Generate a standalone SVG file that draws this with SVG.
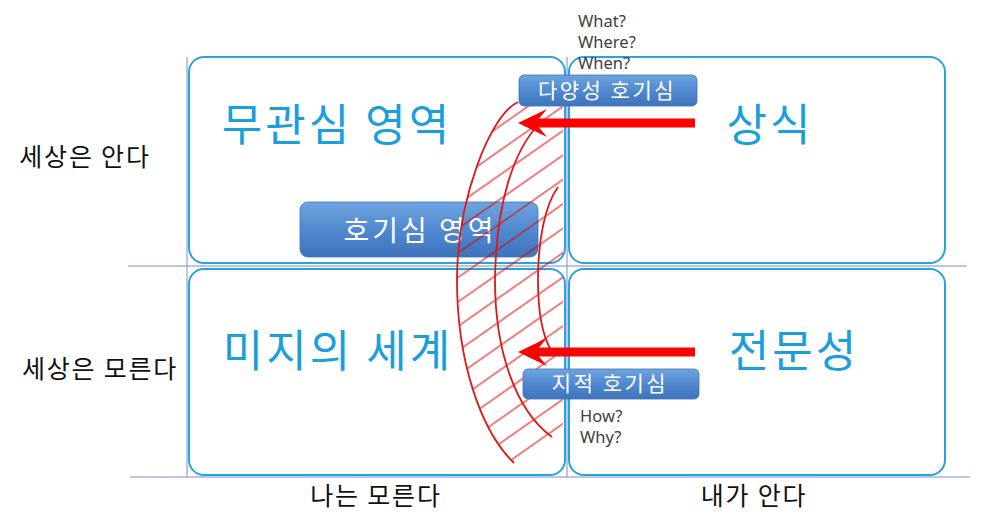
<svg xmlns="http://www.w3.org/2000/svg" width="996" height="516" viewBox="0 0 996 516">
<defs>
<style>
.quad{fill:#ffffff;stroke:#2aa2da;stroke-width:2}
.axis{stroke:#7d8ccb;stroke-width:1;fill:none}
.big{font-family:"Noto Sans CJK KR","Noto Sans",sans-serif;font-size:44px;letter-spacing:3px;fill:#1b9fdb;text-anchor:middle}
.side{font-family:"Noto Sans CJK KR","Noto Sans",sans-serif;font-size:25px;letter-spacing:1.8px;fill:#111111;text-anchor:middle}
.tag{fill:url(#tagGrad);stroke:#3d74b8;stroke-width:0.8}
.tagtxt{font-family:"Noto Sans CJK KR","Noto Sans",sans-serif;fill:#ffffff;text-anchor:middle}
.q{font-family:"Noto Sans","Liberation Sans",sans-serif;font-size:16.5px;fill:#404040}
.arc{fill:none;stroke:#dd1a1a;stroke-width:1.8}
.arrow{fill:#ff0000}
</style>
<linearGradient id="tagGrad" x1="0" y1="0" x2="0" y2="1">
<stop offset="0" stop-color="#6ea4de"/>
<stop offset="0.5" stop-color="#5189d0"/>
<stop offset="1" stop-color="#3d74bc"/>
</linearGradient>
<pattern id="hatch" patternUnits="userSpaceOnUse" width="200" height="20" patternTransform="rotate(-35)">
<line x1="0" y1="10" x2="200" y2="10" stroke="#e00000" stroke-width="1.1"/>
</pattern>
<clipPath id="crescent">
<path d="M 518 102 C 490 115, 457 200, 457 280 C 457 360, 480 430, 514 463 L 563 428 L 563 102 Z"/>
</clipPath>
</defs>

<g id="axes">
<line class="axis" x1="187" y1="57" x2="187" y2="477"/>
<line class="axis" x1="567" y1="57" x2="567" y2="477"/>
<line class="axis" x1="128" y1="266" x2="967" y2="266"/>
<line class="axis" x1="130" y1="477" x2="970" y2="477"/>
</g>

<g id="q-indifference">
<rect class="quad" x="189" y="57" width="376" height="206" rx="15"/>
<text class="big" x="337" y="141">무관심 영역</text>
</g>
<g id="q-common">
<rect class="quad" x="569" y="57" width="376" height="206" rx="15"/>
<text class="big" x="770" y="141">상식</text>
</g>
<g id="q-unknown">
<rect class="quad" x="189" y="269" width="376" height="206" rx="15"/>
<text class="big" x="338" y="367">미지의 세계</text>
</g>
<g id="q-expertise">
<rect class="quad" x="569" y="269" width="376" height="206" rx="15"/>
<text class="big" x="794" y="367">전문성</text>
</g>

<g id="label-world-knows"><text class="side" x="85" y="166">세상은 안다</text></g>
<g id="label-world-unknown"><text class="side" x="100" y="378">세상은 모른다</text></g>
<g id="label-i-unknown"><text class="side" x="376" y="505">나는 모른다</text></g>
<g id="label-i-know"><text class="side" x="754" y="505">내가 안다</text></g>

<g id="curiosity-area">
<rect class="tag" x="300" y="202" width="238" height="55" rx="8"/>
<text class="tagtxt" x="420" y="241" font-size="28" letter-spacing="3">호기심 영역</text>
</g>

<g id="curiosity-zone">
<rect x="440" y="90" width="130" height="390" fill="url(#hatch)" clip-path="url(#crescent)"/>
<path class="arc" d="M 518 102 C 490 115, 457 200, 457 280 C 457 360, 480 430, 514 463"/>
<path class="arc" d="M 538 125 C 515 150, 496 200, 495 280 C 495 350, 515 410, 552 437"/>
<path class="arc" d="M 558 187 C 545 205, 538 240, 538 280 C 538 310, 542 335, 551 350"/>
</g>

<g id="diverse-curiosity">
<rect class="tag" x="519" y="75" width="178" height="31" rx="5"/>
<text class="tagtxt" x="607" y="98" font-size="21" letter-spacing="2.5">다양성 호기심</text>
</g>
<g id="q-what">
<text class="q" x="578" y="27">What?</text>
<text class="q" x="578" y="48">Where?</text>
<text class="q" x="578" y="69">When?</text>
</g>

<g id="intellectual-curiosity">
<rect class="tag" x="523" y="369" width="176" height="30" rx="5"/>
<text class="tagtxt" x="610" y="391" font-size="21" letter-spacing="2.5">지적 호기심</text>
</g>
<g id="q-how">
<text class="q" x="580" y="422">How?</text>
<text class="q" x="580" y="443">Why?</text>
</g>

<g id="connectors">
<polygon class="arrow" points="518,123 547,109 539,118.5 695,118.5 695,127.5 539,127.5 547,137"/>
<polygon class="arrow" points="518,352 547,338 539,347.5 695,347.5 695,356.5 539,356.5 547,366"/>
</g>
</svg>
